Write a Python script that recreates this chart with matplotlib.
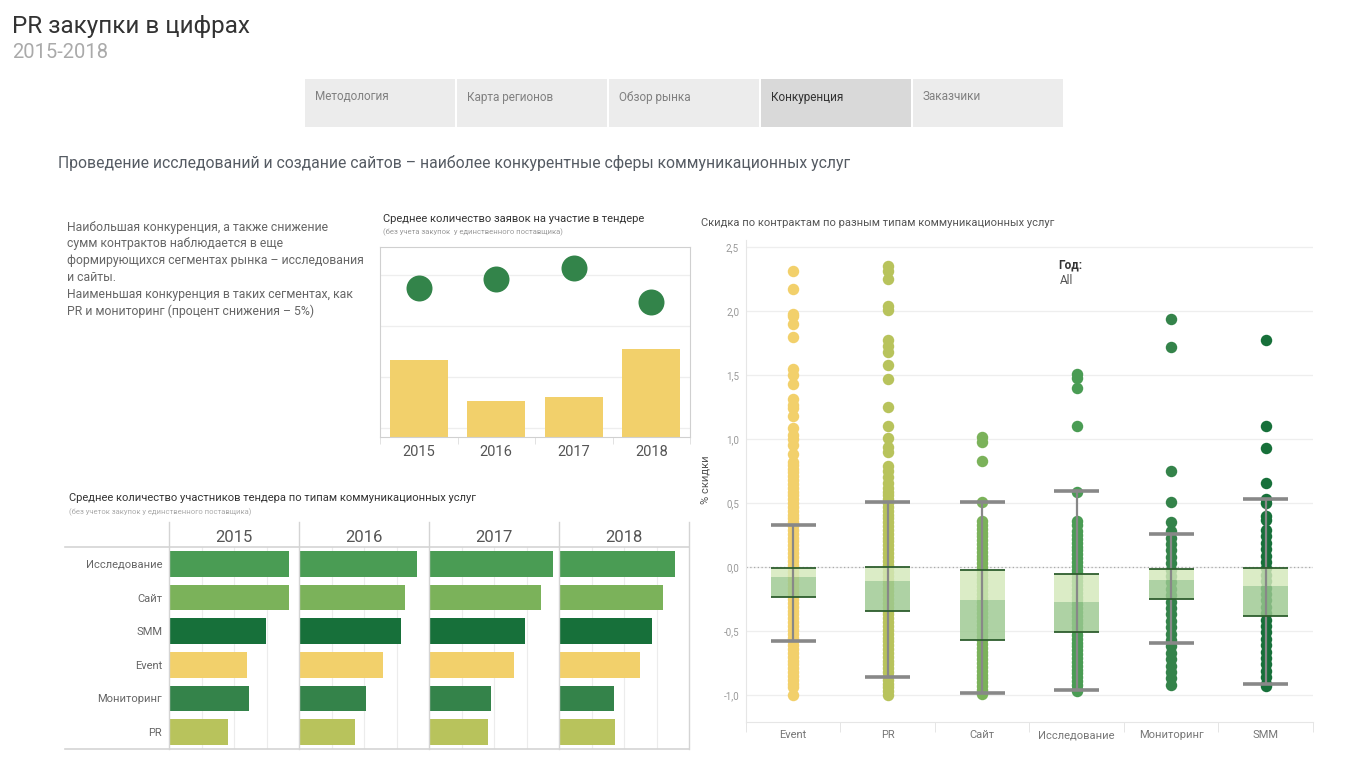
# Дашборд "PR закупки в цифрах" — вкладка "Конкуренция"
import matplotlib
matplotlib.use("Agg")
import matplotlib.pyplot as plt
from matplotlib.patches import Rectangle
from matplotlib.lines import Line2D
from matplotlib.ticker import FuncFormatter

W, H = 1365, 767

# --- данные ---
tabs = ["Методология", "Карта регионов", "Обзор рынка", "Конкуренция", "Заказчики"]
active_tab = "Конкуренция"

years = ["2015", "2016", "2017", "2018"]
bids_avg = [4.75, 4.92, 5.14, 4.47]        # кружки: среднее число заявок
tenders_cnt = [1.51, 0.71, 0.78, 1.73]     # столбики (от низа оси)

bar_types = ["Исследование", "Сайт", "SMM", "Event", "Мониторинг", "PR"]
part_2015 = [3.68, 3.68, 2.98, 2.39, 2.45, 1.81]
part_2016 = [3.62, 3.24, 3.11, 2.56, 2.05, 1.71]
part_2017 = [3.81, 3.43, 2.94, 2.60, 1.90, 1.81]
part_2018 = [3.55, 3.18, 2.84, 2.47, 1.67, 1.71]

box_types = ["Event", "PR", "Сайт", "Исследование", "Мониторинг", "SMM"]
q3 = [-0.005, 0.0, -0.026, -0.057, -0.018, -0.01]
med = [-0.078, -0.109, -0.257, -0.272, -0.101, -0.148]
q1 = [-0.236, -0.345, -0.571, -0.508, -0.252, -0.384]
wh_hi = [0.33, 0.508, 0.51, 0.597, 0.262, 0.535]
wh_lo = [-0.58, -0.858, -0.983, -0.96, -0.594, -0.912]

dots_event = [2.31, 2.17, 1.98, 1.96, 1.90, 1.80, 1.55, 1.50, 1.43, 1.31, 1.27, 1.24, 1.18,
              1.09, 1.03, 1.00, 0.95, 0.88, 0.82,
              0.80, 0.77, 0.74, 0.71, 0.68, 0.65, 0.62, 0.59, 0.56, 0.53, 0.50, 0.47, 0.44,
              0.41, 0.38, 0.35, 0.32, 0.29, 0.26, 0.23, 0.20, 0.17, 0.14, 0.11, 0.08, 0.05,
              0.02, -0.01, -0.04, -0.07, -0.10, -0.13, -0.16, -0.19, -0.22, -0.25, -0.28,
              -0.31, -0.34, -0.37, -0.40, -0.43, -0.46, -0.49, -0.52, -0.55, -0.58, -0.61,
              -0.64, -0.67, -0.70, -0.73, -0.76, -0.79, -0.82, -0.85, -0.88, -0.91, -0.94,
              -1.00]
dots_pr = [2.35, 2.31, 2.25, 2.04, 2.01, 1.77, 1.73, 1.68, 1.58, 1.47, 1.25, 1.10, 1.01, 0.94,
           0.90, 0.79, 0.75, 0.70, 0.66,
           0.62, 0.59, 0.56, 0.53, 0.50, 0.47, 0.44, 0.41, 0.38, 0.35, 0.32, 0.29, 0.26,
           0.23, 0.20, 0.17, 0.14, 0.11, 0.08, 0.05, 0.02, -0.01, -0.04, -0.07, -0.10,
           -0.13, -0.16, -0.19, -0.22, -0.25, -0.28, -0.31, -0.34, -0.37, -0.40, -0.43,
           -0.46, -0.49, -0.52, -0.55, -0.58, -0.61, -0.64, -0.67, -0.70, -0.73, -0.76,
           -0.79, -0.82, -0.85, -0.88, -0.91, -0.94, -0.97, -1.00]
dots_site = [1.02, 0.98, 0.83, 0.51,
             0.36, 0.33, 0.30, 0.27, 0.24, 0.21, 0.18, 0.15, 0.12, 0.09, 0.06, 0.03, 0.00,
             -0.03, -0.06, -0.09, -0.12, -0.15, -0.18, -0.21, -0.24, -0.27, -0.30, -0.33,
             -0.36, -0.39, -0.42, -0.45, -0.48, -0.51, -0.54, -0.57, -0.60, -0.63, -0.66,
             -0.69, -0.72, -0.75, -0.78, -0.81, -0.84, -0.87, -0.90, -0.93, -0.96, -0.99]
dots_research = [1.51, 1.48, 1.40, 1.10, 0.59, 0.36, 0.33,
                 0.28, 0.25, 0.22, 0.19, 0.16, 0.13, 0.10, 0.07, 0.04, 0.01, -0.02, -0.05,
                 -0.08, -0.11, -0.14, -0.17, -0.20, -0.23, -0.26, -0.29, -0.32, -0.35,
                 -0.38, -0.41, -0.44, -0.47, -0.50, -0.53, -0.56, -0.59, -0.62, -0.65,
                 -0.68, -0.71, -0.74, -0.77, -0.80, -0.83, -0.86, -0.89, -0.92, -0.95, -0.97]
dots_monitor = [1.94, 1.72, 0.75, 0.51, 0.35,
                0.28, 0.23, 0.18, 0.13, 0.08, 0.03, -0.02, -0.07, -0.12, -0.17, -0.22,
                -0.27, -0.32, -0.37, -0.42, -0.47, -0.52, -0.57, -0.62, -0.67, -0.72,
                -0.77, -0.82, -0.87, -0.92]
dots_smm = [1.77, 1.10, 0.93, 0.66, 0.53, 0.50, 0.40, 0.37,
            0.29, 0.24, 0.19, 0.14, 0.09, 0.04, -0.01, -0.06, -0.11, -0.16, -0.21, -0.26,
            -0.31, -0.36, -0.41, -0.46, -0.51, -0.56, -0.61, -0.66, -0.71, -0.76, -0.81,
            -0.86, -0.91, -0.93]

colors = {"Event": "#f2d06b", "PR": "#b8c35c", "Сайт": "#7bb25a",
          "Исследование": "#4a9c54", "Мониторинг": "#34834a", "SMM": "#17703a"}

plt.rcParams["font.family"] = ["Roboto", "DejaVu Sans"]
fig = plt.figure(figsize=(W / 100, H / 100), dpi=100)
fig.patch.set_facecolor("white")


def box(x0, y0, x1, y1):
    # пиксели (от левого верхнего угла) -> доли фигуры
    return [x0 / W, 1 - y1 / H, (x1 - x0) / W, (y1 - y0) / H]


def ftext(x, y, s, **kw):
    kw.setdefault("va", "center")
    fig.text(x / W, 1 - y / H, s, **kw)


def fline(x0, y0, x1, y1, **kw):
    fig.add_artist(Line2D([x0 / W, x1 / W], [1 - y0 / H, 1 - y1 / H], **kw))


# шапка
ftext(12, 27, "PR закупки в цифрах", fontsize=17.5, color="#333333")
ftext(12, 52, "2015-2018", fontsize=14.5, color="#aaaaaa")

for i, t in enumerate(tabs):
    x = 305 + i * 152
    fc = "#d9d9d9" if t == active_tab else "#ececec"
    fig.add_artist(Rectangle((x / W, 1 - 127 / H), 150 / W, 48 / H, color=fc, lw=0))
    ftext(x + 10, 97, t, fontsize=8.5, color="#333333" if t == active_tab else "#808080")

ftext(58, 163, "Проведение исследований и создание сайтов – наиболее конкурентные "
      "сферы коммуникационных услуг", fontsize=11.3, color="#555b63")

para = ["Наибольшая конкуренция, а также снижение",
        "сумм контрактов наблюдается в еще",
        "формирующихся сегментах рынка – исследования",
        "и сайты.",
        "Наименьшая конкуренция в таких сегментах, как",
        "PR и мониторинг (процент снижения – 5%)"]
for i, s in enumerate(para):
    ftext(67, 227 + i * 16.9, s, fontsize=8.8, color="#666666")

# --- график 1: среднее количество заявок ---
ftext(383, 219, "Среднее количество заявок на участие в тендере", fontsize=8, color="#333333")
ftext(383, 232, "(без учета закупок  у единственного поставщика)", fontsize=5.5, color="#999999")

ax = fig.add_axes(box(380, 247, 690, 437))
y_min = 1.824
x = range(len(years))
ax.bar(x, tenders_cnt, bottom=y_min, width=0.75, color="#f2d06b", zorder=2)
ax.scatter(x, bids_avg, s=350, color="#33844a", zorder=3, lw=0)
ax.set_xlim(-0.5, 3.5)
ax.set_ylim(y_min, 5.55)
ax.set_yticks([2, 3, 4, 5])
ax.yaxis.grid(True, color="#eeeeee", lw=0.9)
ax.set_axisbelow(True)
ax.tick_params(axis="y", length=0, labelleft=False)
ax.set_xticks(list(x))
ax.set_xticklabels(years, fontsize=10.5, color="#555555")
ax.set_xticks([-0.5, 0.5, 1.5, 2.5, 3.5], minor=True)
ax.tick_params(axis="x", which="major", length=0, pad=6)
ax.tick_params(axis="x", which="minor", length=5, color="#dddddd")
for sp in ax.spines.values():
    sp.set_color("#d0d0d0")

# --- график 2: среднее количество участников по типам ---
ftext(69, 498, "Среднее количество участников тендера по типам коммуникационных услуг",
      fontsize=8, color="#333333")
ftext(69, 512, "(без учеток закупок у единственного поставщика)", fontsize=5.5, color="#aaaaaa")

parts = [part_2015, part_2016, part_2017, part_2018]
bar_cols = [colors[t] for t in bar_types]
for k, (yr, vals) in enumerate(zip(years, parts)):
    x0 = 169 + k * 130
    a = fig.add_axes(box(x0, 547, x0 + 130, 749))
    a.barh(range(len(bar_types)), vals, height=0.76, color=bar_cols, zorder=2)
    a.set_xlim(0, 3.98)
    a.set_ylim(5.5, -0.5)
    a.set_xticks([1, 2, 3])
    a.xaxis.grid(True, color="#ececec", lw=0.8)
    a.set_axisbelow(True)
    a.tick_params(axis="x", length=0, labelbottom=False)
    a.set_yticks(range(len(bar_types)))
    if k == 0:
        a.set_yticklabels(bar_types, fontsize=8, color="#666666")
    else:
        a.set_yticklabels([])
    a.tick_params(axis="y", length=0, pad=5)
    for sp in a.spines.values():
        sp.set_visible(False)
    ftext(x0 + 65, 537, yr, fontsize=12, color="#555555", ha="center")

for k in range(5):
    fline(169 + k * 130, 522, 169 + k * 130, 749, color="#d4d4d4", lw=1)
fline(65, 547, 689, 547, color="#d4d4d4", lw=1.2)
fline(65, 749, 689, 749, color="#d4d4d4", lw=1.2)

# --- график 3: скидка по контрактам ---
ftext(701, 223, "Скидка по контрактам по разным типам коммуникационных услуг",
      fontsize=8, color="#555555")

bx = fig.add_axes(box(746, 240, 1313, 722))
dots = [dots_event, dots_pr, dots_site, dots_research, dots_monitor, dots_smm]
for i, (t, d) in enumerate(zip(box_types, dots)):
    bx.scatter([i] * len(d), d, s=68, color=colors[t], lw=0, zorder=2)

pos = range(len(box_types))
bw = 0.48
up_h = [a - b for a, b in zip(q3, med)]
lo_h = [a - b for a, b in zip(med, q1)]
bx.bar(pos, up_h, bottom=med, width=bw, color="#d3e8ba", alpha=0.82, zorder=3)
bx.bar(pos, lo_h, bottom=q1, width=bw, color="#9cc990", alpha=0.82, zorder=3)
for i in pos:
    bx.vlines(i, wh_lo[i], wh_hi[i], color="#888888", lw=1.6, zorder=4)
    bx.hlines([q3[i], q1[i]], i - bw / 2, i + bw / 2, color="#2e5e2e", lw=1.3, zorder=5)
    bx.hlines([wh_hi[i], wh_lo[i]], i - bw / 2, i + bw / 2, color="#888888", lw=2.6, zorder=5)

bx.axhline(0, color="#aaaaaa", lw=0.9, ls=(0, (1, 2)), zorder=1)
bx.set_xlim(-0.5, 5.5)
bx.set_ylim(-1.21, 2.555)
bx.set_yticks([-1.0, -0.5, 0.0, 0.5, 1.0, 1.5, 2.0, 2.5])
bx.yaxis.set_major_formatter(FuncFormatter(lambda v, p: f"{v:.1f}".replace(".", ",")))
bx.yaxis.grid(True, color="#eeeeee", lw=0.9)
bx.set_axisbelow(True)
bx.tick_params(axis="y", length=0, labelsize=7, labelcolor="#999999", pad=5)
bx.set_xticks(list(pos))
bx.set_xticklabels(box_types, fontsize=8, color="#777777")
bx.set_xticks([-0.5, 0.5, 1.5, 2.5, 3.5, 4.5, 5.5], minor=True)
bx.tick_params(axis="x", which="major", length=0, pad=6)
bx.tick_params(axis="x", which="minor", length=7, color="#e0e0e0")
for s in ["top", "right"]:
    bx.spines[s].set_visible(False)
bx.spines["left"].set_color("#e6e6e6")
bx.spines["bottom"].set_color("#e6e6e6")

ftext(705, 480, "% скидки", fontsize=8, color="#555555", rotation=90, ha="center")
ftext(1058, 265, "Год:", fontsize=8.5, color="#333333", fontweight="bold")
ftext(1060, 281, "All", fontsize=8.5, color="#555555")

fig.savefig("out.png", dpi=100, facecolor="white")
